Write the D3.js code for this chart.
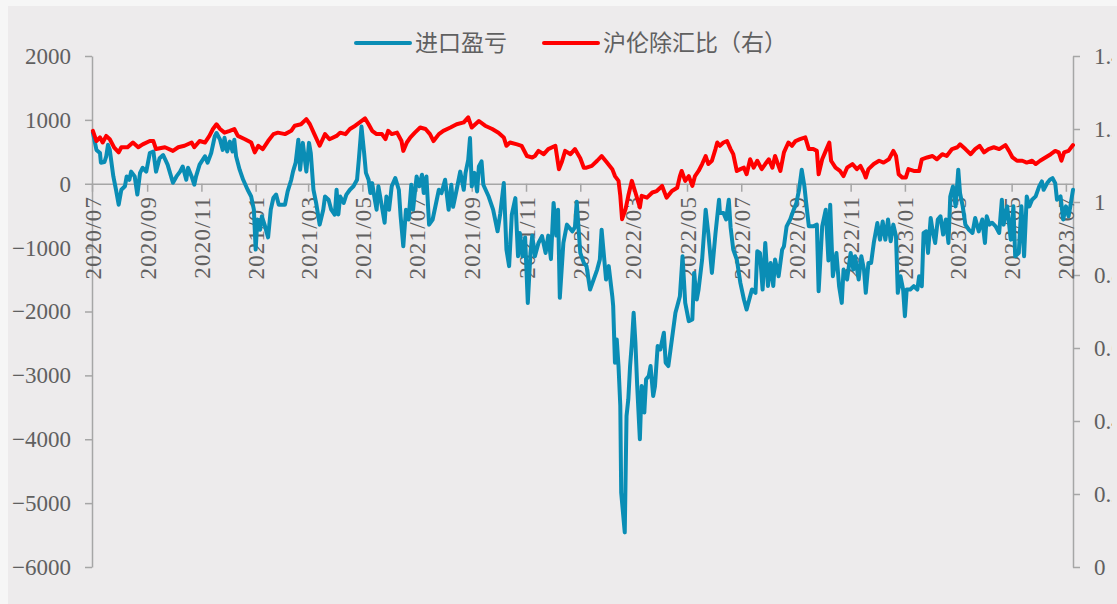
<!DOCTYPE html>
<html><head><meta charset="utf-8">
<script src="https://cdn.jsdelivr.net/npm/d3@7"></script>
<style>html,body{margin:0;padding:0;background:#f6f6f6;} svg{display:block}</style>
</head><body><svg id="c" width="1117" height="604"></svg>
<script>
const seriesNames = ["进口盈亏", "沪伦除汇比（右）"];
const leftTicks = [2000, 1000, 0, -1000, -2000, -3000, -4000, -5000, -6000];
const rightTicks = [0, 0.2, 0.4, 0.6, 0.8, 1, 1.2, 1.4];
const xTickLabels = ["2020/07","2020/09","2020/11","2021/01","2021/03","2021/05","2021/07","2021/09","2021/11","2022/01","2022/03","2022/05","2022/07","2022/09","2022/11","2023/01","2023/03","2023/05","2023/07"];
const dateRange = ["2020-07-01", "2023-07-09"];

// 进口盈亏 (left axis)
const importPnL = [
["2020-07-02",800],["2020-07-06",530],["2020-07-10",480],["2020-07-11",330],["2020-07-15",340],["2020-07-17",430],["2020-07-19",610],["2020-07-21",530],["2020-07-25",115],["2020-07-28",-94],["2020-07-31",-328],
["2020-08-03",-94],["2020-08-07",-40],["2020-08-09",115],["2020-08-12",62],["2020-08-14",190],["2020-08-18",115],["2020-08-21",-170],["2020-08-24",170],["2020-08-27",250],["2020-08-31",190],
["2020-09-04",480],["2020-09-08",505],["2020-09-11",190],["2020-09-15",400],["2020-09-19",450],["2020-09-24",300],["2020-09-30",15],
["2020-10-04",115],["2020-10-08",190],["2020-10-11",270],["2020-10-15",62],["2020-10-17",250],["2020-10-21",115],["2020-10-24",-15],["2020-10-26",115],["2020-10-30",300],
["2020-11-05",430],["2020-11-08",330],["2020-11-12",480],["2020-11-16",740],["2020-11-18",795],["2020-11-22",690],["2020-11-25",530],["2020-11-27",720],["2020-11-30",505],
["2020-12-03",660],["2020-12-06",505],["2020-12-08",690],["2020-12-10",430],["2020-12-14",220],["2020-12-18",62],["2020-12-23",-94],["2020-12-27",-200],["2020-12-30",-406],
["2021-01-01",-1031],["2021-01-03",-560],["2021-01-06",-720],["2021-01-08",-510],["2021-01-11",-640],["2021-01-15",-840],["2021-01-18",-406],["2021-01-21",-220],["2021-01-24",-170],["2021-01-27",-328],
["2021-02-03",-328],["2021-02-06",-120],["2021-02-10",62],["2021-02-12",190],["2021-02-15",330],["2021-02-18",690],["2021-02-20",220],["2021-02-23",640],["2021-02-27",190],
["2021-03-02",640],["2021-03-04",480],["2021-03-07",-94],["2021-03-10",-300],["2021-03-14",-640],["2021-03-18",-406],["2021-03-20",-200],["2021-03-24",-250],["2021-03-27",-406],["2021-03-31",-485],
["2021-04-02",-94],["2021-04-04",-480],["2021-04-06",-200],["2021-04-10",-300],["2021-04-13",-170],["2021-04-17",-94],["2021-04-21",-40],["2021-04-25",62],["2021-04-27",375],["2021-04-30",895],
["2021-05-03",480],["2021-05-05",170],["2021-05-08",62],["2021-05-10",-146],["2021-05-12",10],["2021-05-15",-250],["2021-05-17",-406],["2021-05-19",-40],["2021-05-23",-360],["2021-05-26",-610],["2021-05-28",-200],["2021-05-31",-406],
["2021-06-03",-40],["2021-06-07",88],["2021-06-11",-94],["2021-06-13",-510],["2021-06-16",-980],["2021-06-19",-406],["2021-06-22",-560],["2021-06-25",-15],["2021-06-27",-406],
["2021-07-01",115],["2021-07-04",-40],["2021-07-07",140],["2021-07-09",-146],["2021-07-12",115],["2021-07-15",-640],["2021-07-19",-560],["2021-07-22",-360],["2021-07-26",-94],["2021-07-29",-146],
["2021-08-02",62],["2021-08-06",-406],["2021-08-09",-15],["2021-08-11",-360],["2021-08-15",-94],["2021-08-19",190],["2021-08-23",-94],["2021-08-25",170],["2021-08-28",375],["2021-08-30",715],
["2021-09-01",-40],["2021-09-04",170],["2021-09-07",-120],["2021-09-09",270],["2021-09-12",350],["2021-09-14",-15],["2021-09-20",-200],["2021-09-25",-406],["2021-09-30",-745],
["2021-10-03",-470],["2021-10-07",10],["2021-10-10",-1031],["2021-10-13",-1290],["2021-10-16",-485],["2021-10-20",-225],["2021-10-23",-1135],["2021-10-25",-770],["2021-10-28",-1135],["2021-10-31",-840],
["2021-11-03",-1865],["2021-11-06",-1083],["2021-11-08",-812],["2021-11-11",-1135],["2021-11-15",-927],["2021-11-19",-820],["2021-11-23",-1083],["2021-11-26",-812],["2021-11-29",-1180],
["2021-12-02",-300],["2021-12-05",-812],["2021-12-07",-406],["2021-12-09",-1786],["2021-12-13",-927],["2021-12-17",-640],["2021-12-23",-745],["2021-12-26",-680],["2021-12-28",-280],
["2022-01-01",-1083],["2022-01-05",-1240],["2022-01-08",-1290],["2022-01-12",-1656],["2022-01-16",-1500],["2022-01-20",-1344],["2022-01-23",-1187],["2022-01-25",-720],["2022-01-27",-1031],["2022-01-30",-1500],
["2022-02-02",-1290],["2022-02-06",-1760],["2022-02-07",-1917],["2022-02-09",-2802],["2022-02-11",-2437],["2022-02-13",-2854],["2022-02-15",-3479],["2022-02-16",-4833],["2022-02-20",-5458],["2022-02-22",-3635],["2022-02-24",-3375],["2022-02-26",-2854],["2022-02-28",-2490],
["2022-03-02",-2021],["2022-03-04",-2490],["2022-03-06",-3167],["2022-03-09",-4000],["2022-03-11",-3167],["2022-03-14",-3583],["2022-03-16",-3062],["2022-03-19",-3010],["2022-03-21",-2854],["2022-03-24",-3323],["2022-03-26",-3167],["2022-03-29",-2542],
["2022-04-01",-2594],["2022-04-05",-2333],["2022-04-07",-2802],["2022-04-10",-2854],["2022-04-14",-2437],["2022-04-18",-2021],["2022-04-20",-1917],["2022-04-23",-1760],["2022-04-26",-1135],["2022-04-29",-1865],
["2022-05-03",-2151],["2022-05-07",-2125],["2022-05-09",-1396],["2022-05-12",-1812],["2022-05-14",-1656],["2022-05-18",-1187],["2022-05-22",-406],["2022-05-25",-781],["2022-05-29",-1396],
["2022-06-02",-781],["2022-06-06",-250],["2022-06-07",-458],["2022-06-11",-458],["2022-06-14",-560],["2022-06-17",-250],["2022-06-19",-680],["2022-06-22",-1031],["2022-06-26",-1187],["2022-06-30",-1552],
["2022-07-04",-1812],["2022-07-07",-1969],["2022-07-10",-1812],["2022-07-13",-1656],["2022-07-17",-1708],["2022-07-19",-1057],["2022-07-22",-1083],["2022-07-25",-1656],["2022-07-28",-927],["2022-07-31",-1600],
["2022-08-03",-1240],["2022-08-06",-1600],["2022-08-08",-1187],["2022-08-12",-1448],["2022-08-16",-1031],["2022-08-18",-980],["2022-08-21",-667],["2022-08-25",-560],["2022-08-29",-406],
["2022-09-01",-300],["2022-09-04",-94],["2022-09-07",220],["2022-09-10",-40],["2022-09-12",-300],["2022-09-15",-667],["2022-09-20",-667],["2022-09-24",-640],["2022-09-26",-1682],["2022-09-30",-667],
["2022-10-04",-406],["2022-10-07",-1200],["2022-10-09",-328],["2022-10-12",-1448],["2022-10-16",-1083],["2022-10-19",-1604],["2022-10-22",-1865],["2022-10-24",-1344],["2022-10-28",-1500],
["2022-11-01",-1083],["2022-11-04",-1344],["2022-11-06",-1135],["2022-11-10",-1500],["2022-11-13",-1135],["2022-11-16",-1344],["2022-11-18",-1708],["2022-11-21",-1240],["2022-11-24",-1240],["2022-11-27",-927],
["2022-12-01",-615],["2022-12-04",-875],["2022-12-07",-590],["2022-12-10",-875],["2022-12-13",-560],["2022-12-16",-900],["2022-12-19",-640],["2022-12-22",-823],["2022-12-24",-1708],["2022-12-27",-1448],["2022-12-30",-1656],
["2023-01-01",-2073],["2023-01-03",-1656],["2023-01-07",-1656],["2023-01-11",-1604],["2023-01-15",-1656],["2023-01-17",-1448],["2023-01-20",-1604],["2023-01-22",-770],["2023-01-25",-745],["2023-01-27",-1083],["2023-01-30",-536],
["2023-02-01",-720],["2023-02-04",-927],["2023-02-07",-560],["2023-02-10",-510],["2023-02-13",-796],["2023-02-16",-560],["2023-02-19",-927],["2023-02-21",-198],["2023-02-24",-42],["2023-02-27",-354],
["2023-03-02",220],["2023-03-04",-146],["2023-03-07",-354],["2023-03-10",-640],["2023-03-14",-720],["2023-03-18",-770],["2023-03-21",-536],["2023-03-25",-745],["2023-03-29",-560],
["2023-04-01",-927],["2023-04-03",-510],["2023-04-06",-640],["2023-04-09",-610],["2023-04-13",-667],["2023-04-17",-770],["2023-04-20",-250],["2023-04-22",-640],["2023-04-26",-354],["2023-04-30",-875],
["2023-05-03",-354],["2023-05-05",-1135],["2023-05-09",-1083],["2023-05-12",-354],["2023-05-15",-1135],["2023-05-18",-198],["2023-05-21",-354],["2023-05-24",-250],["2023-05-28",-198],
["2023-06-01",-42],["2023-06-04",36],["2023-06-06",-94],["2023-06-10",10],["2023-06-13",62],["2023-06-16",88],["2023-06-19",10],["2023-06-21",-250],["2023-06-25",-198],["2023-06-28",-560],
["2023-07-01",-354],["2023-07-04",-510],["2023-07-06",-354],["2023-07-09",-94]
];

// 沪伦除汇比 (right axis)
const ratio = [
["2020-07-02",1.195],["2020-07-06",1.167],["2020-07-10",1.177],["2020-07-13",1.163],["2020-07-17",1.181],["2020-07-21",1.172],["2020-07-26",1.149],["2020-07-31",1.136],
["2020-08-03",1.150],["2020-08-10",1.150],["2020-08-16",1.163],["2020-08-22",1.150],["2020-08-27",1.158],
["2020-09-04",1.167],["2020-09-08",1.167],["2020-09-11",1.145],["2020-09-21",1.150],["2020-09-30",1.140],
["2020-10-06",1.150],["2020-10-13",1.154],["2020-10-21",1.163],["2020-10-24",1.150],["2020-10-30",1.167],
["2020-11-05",1.163],["2020-11-10",1.181],["2020-11-14",1.200],["2020-11-18",1.213],["2020-11-22",1.200],["2020-11-27",1.190],
["2020-12-03",1.195],["2020-12-08",1.200],["2020-12-12",1.181],["2020-12-20",1.172],["2020-12-27",1.163],["2020-12-31",1.136],
["2021-01-04",1.154],["2021-01-09",1.145],["2021-01-15",1.167],["2021-01-21",1.186],["2021-01-26",1.190],
["2021-02-03",1.186],["2021-02-10",1.195],["2021-02-14",1.209],["2021-02-21",1.213],["2021-02-27",1.227],
["2021-03-03",1.213],["2021-03-08",1.186],["2021-03-14",1.154],["2021-03-20",1.186],["2021-03-25",1.172],
["2021-04-02",1.181],["2021-04-06",1.190],["2021-04-12",1.186],["2021-04-17",1.200],["2021-04-23",1.209],["2021-04-28",1.218],
["2021-05-04",1.229],["2021-05-08",1.213],["2021-05-12",1.195],["2021-05-17",1.186],["2021-05-23",1.186],["2021-05-27",1.172],["2021-05-30",1.195],
["2021-06-03",1.186],["2021-06-09",1.190],["2021-06-14",1.167],["2021-06-16",1.140],["2021-06-20",1.163],["2021-06-24",1.177],["2021-06-29",1.190],
["2021-07-05",1.204],["2021-07-11",1.200],["2021-07-16",1.186],["2021-07-20",1.167],["2021-07-26",1.186],["2021-07-31",1.195],
["2021-08-08",1.204],["2021-08-15",1.213],["2021-08-23",1.218],["2021-08-28",1.232],
["2021-09-01",1.204],["2021-09-09",1.222],["2021-09-16",1.209],["2021-09-24",1.200],
["2021-10-01",1.190],["2021-10-07",1.177],["2021-10-10",1.154],["2021-10-14",1.163],["2021-10-22",1.158],["2021-10-27",1.154],
["2021-11-02",1.126],["2021-11-08",1.122],["2021-11-11",1.126],["2021-11-15",1.140],["2021-11-21",1.131],["2021-11-26",1.145],
["2021-12-04",1.154],["2021-12-08",1.090],["2021-12-11",1.108],["2021-12-15",1.140],["2021-12-21",1.131],["2021-12-26",1.145],
["2022-01-01",1.120],["2022-01-05",1.094],["2022-01-08",1.094],["2022-01-14",1.099],["2022-01-20",1.113],["2022-01-25",1.126],["2022-01-31",1.108],
["2022-02-06",1.090],["2022-02-09",1.071],["2022-02-13",1.058],["2022-02-15",1.017],["2022-02-17",0.953],["2022-02-21",0.981],["2022-02-24",1.017],["2022-02-28",1.058],
["2022-03-04",1.026],["2022-03-09",0.985],["2022-03-11",1.017],["2022-03-17",1.012],["2022-03-23",1.026],["2022-03-28",1.030],
["2022-04-03",1.044],["2022-04-08",1.012],["2022-04-14",1.030],["2022-04-20",1.039],["2022-04-23",1.071],["2022-04-25",1.085],["2022-04-29",1.058],
["2022-05-03",1.071],["2022-05-07",1.044],["2022-05-10",1.071],["2022-05-14",1.085],["2022-05-18",1.104],["2022-05-22",1.126],["2022-05-25",1.104],["2022-05-29",1.113],
["2022-06-02",1.145],["2022-06-04",1.163],["2022-06-07",1.154],["2022-06-11",1.163],["2022-06-15",1.167],["2022-06-19",1.145],["2022-06-22",1.131],["2022-06-26",1.085],["2022-06-30",1.090],
["2022-07-04",1.094],["2022-07-07",1.076],["2022-07-11",1.117],["2022-07-15",1.094],["2022-07-19",1.113],["2022-07-24",1.090],["2022-07-28",1.104],
["2022-08-01",1.117],["2022-08-05",1.094],["2022-08-08",1.126],["2022-08-14",1.085],["2022-08-18",1.136],["2022-08-23",1.163],["2022-08-27",1.154],["2022-08-31",1.167],
["2022-09-05",1.172],["2022-09-11",1.177],["2022-09-15",1.145],["2022-09-20",1.145],["2022-09-24",1.140],["2022-09-26",1.076],["2022-09-30",1.117],
["2022-10-04",1.140],["2022-10-08",1.163],["2022-10-10",1.113],["2022-10-15",1.094],["2022-10-20",1.085],["2022-10-24",1.071],["2022-10-28",1.094],
["2022-11-03",1.104],["2022-11-08",1.090],["2022-11-12",1.099],["2022-11-16",1.080],["2022-11-18",1.067],["2022-11-21",1.090],["2022-11-27",1.104],
["2022-12-03",1.113],["2022-12-08",1.108],["2022-12-14",1.117],["2022-12-19",1.140],["2022-12-22",1.126],["2022-12-25",1.076],["2022-12-29",1.067],
["2023-01-02",1.067],["2023-01-05",1.090],["2023-01-11",1.085],["2023-01-17",1.085],["2023-01-20",1.117],["2023-01-26",1.122],
["2023-02-01",1.126],["2023-02-06",1.117],["2023-02-12",1.131],["2023-02-17",1.126],["2023-02-23",1.145],
["2023-03-01",1.150],["2023-03-04",1.158],["2023-03-10",1.145],["2023-03-16",1.131],["2023-03-21",1.145],["2023-03-26",1.154],["2023-03-31",1.136],
["2023-04-05",1.145],["2023-04-11",1.150],["2023-04-17",1.145],["2023-04-24",1.156],["2023-04-28",1.140],
["2023-05-02",1.122],["2023-05-07",1.113],["2023-05-13",1.113],["2023-05-18",1.108],["2023-05-24",1.113],["2023-05-28",1.104],
["2023-06-02",1.113],["2023-06-08",1.122],["2023-06-14",1.131],["2023-06-19",1.140],["2023-06-23",1.136],["2023-06-26",1.113],["2023-06-29",1.136],
["2023-07-04",1.140],["2023-07-09",1.156]
];

const W = 1117, H = 604;
const colors = ["#0a8db5", "#ff0000"];
const axisColor = "#a6a6a6";
const textColor = "#606060";
const numFont = "'Liberation Serif', 'DejaVu Serif', serif";
const cjkFont = "'Noto Sans CJK SC', 'Noto Sans', sans-serif";

const svg = d3.select("#c");
svg.append("rect").attr("x", 8).attr("y", 6).attr("width", W - 8).attr("height", H - 6).attr("fill", "#edebec");

const parse = d3.timeParse("%Y-%m-%d");
const parseMonth = d3.timeParse("%Y/%m");
const x = d3.scaleTime().domain(dateRange.map(parse)).range([92, 1073]);
const yL = d3.scaleLinear().domain([-6000, 2000]).range([567, 56]);
const yR = d3.scaleLinear().domain([0, 1.4]).range([567, 56]);

function styleAxis(g) {
  g.selectAll(".domain").attr("stroke", axisColor).attr("stroke-width", 1.5);
  g.selectAll(".tick line").attr("stroke", axisColor).attr("stroke-width", 1.5);
  g.selectAll(".tick text").attr("fill", textColor).style("font-family", numFont).style("font-size", "23px");
}

// left axis
const gL = svg.append("g").attr("transform", "translate(92,0)")
  .call(d3.axisLeft(yL).tickValues(leftTicks).tickSize(7).tickSizeOuter(0).tickPadding(14).tickFormat(d3.format("d")));
styleAxis(gL);

// right axis (labels clipped at panel edge like the reference)
svg.append("clipPath").attr("id", "rclip").append("rect").attr("x", 0).attr("y", 0).attr("width", 1112).attr("height", H);
const gR = svg.append("g").attr("clip-path", "url(#rclip)").append("g").attr("transform", "translate(1073,0)")
  .call(d3.axisRight(yR).tickValues(rightTicks).tickSize(7).tickSizeOuter(0).tickPadding(14).tickFormat(d3.format("~g")));
styleAxis(gR);

// x axis at zero line
const gX = svg.append("g").attr("transform", `translate(0,${yL(0)})`)
  .call(d3.axisBottom(x).tickValues(xTickLabels.map(parseMonth)).tickSize(8).tickSizeOuter(0)
    .tickFormat((d, i) => xTickLabels[i]));
styleAxis(gX);
gX.selectAll(".tick text")
  .attr("transform", "rotate(-90)")
  .attr("text-anchor", "end")
  .attr("x", -12).attr("y", 0).attr("dy", "0.35em")
  .style("letter-spacing", "1.2px");

// lines
const lineL = d3.line().x(d => x(parse(d[0]))).y(d => yL(d[1]));
const lineR = d3.line().x(d => x(parse(d[0]))).y(d => yR(d[1]));
svg.append("path").datum(importPnL).attr("d", lineL).attr("fill", "none")
  .attr("stroke", colors[0]).attr("stroke-width", 4).attr("stroke-linejoin", "round").attr("stroke-linecap", "round");
svg.append("path").datum(ratio).attr("d", lineR).attr("fill", "none")
  .attr("stroke", colors[1]).attr("stroke-width", 4).attr("stroke-linejoin", "round").attr("stroke-linecap", "round");

// legend
const legendX = [356, 544];
seriesNames.forEach((name, i) => {
  const g = svg.append("g").attr("transform", `translate(${legendX[i]},43)`);
  g.append("line").attr("x1", 0).attr("x2", 54).attr("y1", 0).attr("y2", 0)
    .attr("stroke", colors[i]).attr("stroke-width", 4).attr("stroke-linecap", "round");
  g.append("text").attr("x", 59).attr("y", 0).attr("dy", "0.36em")
    .attr("fill", textColor).style("font-family", cjkFont).style("font-size", "23px").text(name);
});
</script>
</body></html>
